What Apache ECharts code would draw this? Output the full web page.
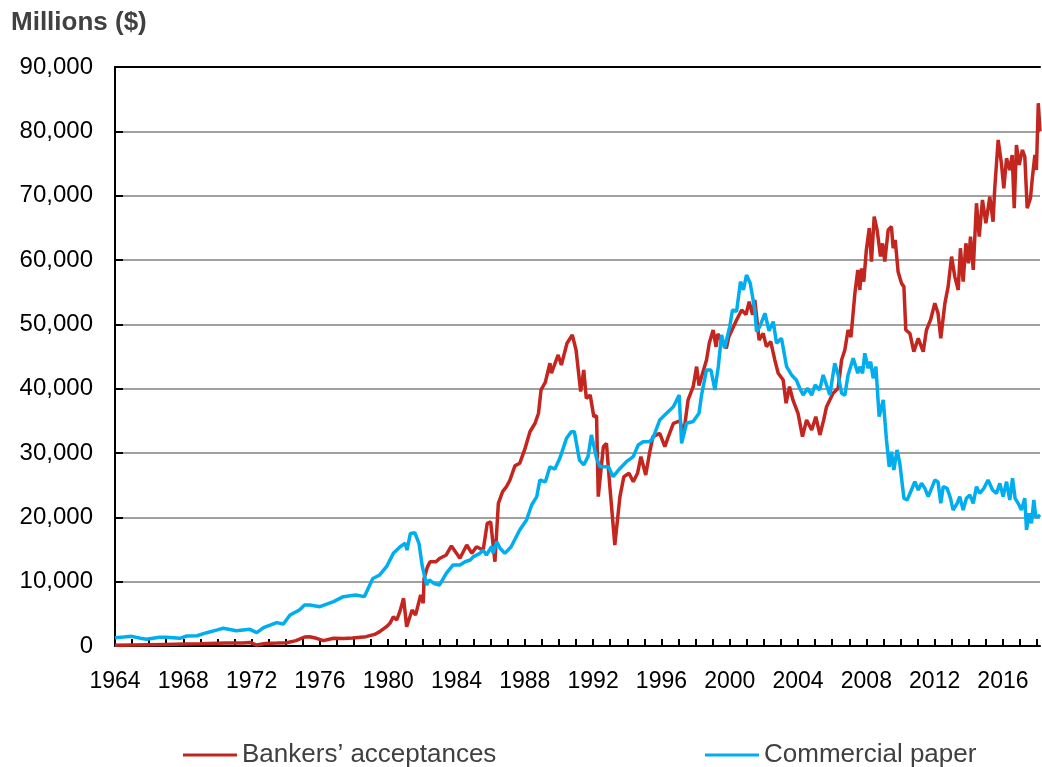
<!DOCTYPE html>
<html>
<head>
<meta charset="utf-8">
<script src="https://cdn.jsdelivr.net/npm/echarts@6/dist/echarts.min.js"></script>
<style>
  html, body { margin: 0; padding: 0; background: #fff; }
  #chart { width: 1042px; height: 767px; }
</style>
</head>
<body>
<div id="chart"></div>
<script>
// Bankers' acceptances (decimal year, millions of $)
const baYears = [
  1964.0, 1965.0, 1966.0, 1967.0, 1968.0, 1969.0, 1970.5, 1971.5, 1971.9, 1972.3,
  1972.8, 1973.5, 1974.05, 1974.6, 1975.1, 1975.4, 1975.8, 1976.2, 1976.8, 1977.4,
  1977.9, 1978.7, 1979.2, 1979.5, 1979.9, 1980.1, 1980.3, 1980.5, 1980.7, 1980.9,
  1981.08, 1981.4, 1981.6, 1981.9, 1982.05, 1982.1, 1982.3, 1982.45, 1982.8, 1983.0,
  1983.4, 1983.7, 1984.2, 1984.6, 1984.9, 1985.17, 1985.56, 1985.8, 1986.0, 1986.25,
  1986.45, 1986.7, 1986.93, 1987.13, 1987.42, 1987.7, 1988.0, 1988.3, 1988.6, 1988.8,
  1988.95, 1989.2, 1989.47, 1989.56, 1989.95, 1990.14, 1990.47, 1990.78, 1991.0, 1991.27,
  1991.45, 1991.6, 1991.83, 1992.04, 1992.2, 1992.3, 1992.6, 1992.78, 1992.98, 1993.27,
  1993.57, 1993.8, 1994.1, 1994.35, 1994.6, 1994.8, 1995.08, 1995.3, 1995.5, 1995.9,
  1996.2, 1996.4, 1996.7, 1997.08, 1997.3, 1997.56, 1997.86, 1998.06, 1998.2, 1998.35,
  1998.64, 1998.8, 1999.03, 1999.2, 1999.3, 1999.8, 1999.95, 2000.4, 2000.7, 2000.95,
  2001.14, 2001.34, 2001.47, 2001.72, 2001.96, 2002.15, 2002.4, 2002.64, 2002.84, 2003.13,
  2003.3, 2003.5, 2003.7, 2004.0, 2004.26, 2004.5, 2004.8, 2005.04, 2005.28, 2005.5,
  2005.67, 2005.86, 2006.05, 2006.35, 2006.55, 2006.74, 2006.93, 2007.1, 2007.33, 2007.5,
  2007.62, 2007.72, 2007.85, 2008.0, 2008.17, 2008.3, 2008.46, 2008.63, 2008.83, 2008.95,
  2009.08, 2009.28, 2009.47, 2009.57, 2009.69, 2009.86, 2010.06, 2010.2, 2010.31, 2010.55,
  2010.78, 2011.04, 2011.33, 2011.52, 2011.76, 2012.01, 2012.2, 2012.36, 2012.6, 2012.79,
  2012.99, 2013.18, 2013.38, 2013.51, 2013.67, 2013.83, 2013.98, 2014.1, 2014.26, 2014.45,
  2014.61, 2014.8, 2015.0, 2015.23, 2015.42, 2015.52, 2015.72, 2015.91, 2016.05, 2016.21,
  2016.4, 2016.54, 2016.66, 2016.79, 2016.95, 2017.14, 2017.28, 2017.42, 2017.61, 2017.73,
  2017.87, 2017.96, 2018.07, 2018.17
];
const baValues = [
  100, 150, 200, 250, 300, 350, 450, 450, 550, 150,
  400, 450, 500, 830, 1400, 1450, 1200, 830, 1200, 1150,
  1250, 1450, 1800, 2230, 3000, 3520, 4550, 4040, 5500, 7410,
  3000, 5600, 4800, 7930, 6640, 10500, 12300, 13100, 13100, 13600,
  14150, 15550, 13630, 15700, 14400, 15430, 14900, 19070, 19300, 13100,
  22180, 23990, 24800, 25800, 28000, 28400, 30600, 33300, 34620, 36170,
  39800, 41000, 43950, 42400, 45240, 43680, 47060, 48350, 46010, 39540,
  42900, 38500, 39000, 35650, 35800, 23210, 30980, 31500, 24770, 15700,
  23210, 26320, 26840, 25540, 26840, 29430, 26580, 29950, 32540, 33060,
  30980, 32500, 34620, 35000, 33000, 38240, 40310, 43420, 40500, 41860,
  44460, 47060, 49120, 46500, 48500, 46270, 48080, 50680, 52230, 51500,
  53520, 51500, 53790, 47570, 48600, 46530, 47300, 44460, 42400, 41350,
  37730, 40310, 38240, 36170, 32540, 35130, 33580, 35650, 32800, 35100,
  37200, 38240, 39300, 40060, 44460, 46010, 49120, 48000, 54830, 58450,
  55340, 58710, 56630, 61570, 64940, 59750, 66740, 64680, 60530, 62590,
  59750, 64680, 65200, 61830, 63130, 58190, 56370, 55860, 49120, 48600,
  45750, 47830, 45750, 49120, 50680, 53270, 51720, 47830, 53270, 55860,
  60530, 57420, 55340, 61830, 56630, 62590, 59490, 63640, 58450, 68820,
  63640, 69330, 65710, 69850, 65960, 71150, 78660, 75030, 71150, 75810,
  73990, 76330, 68040, 77880, 74770, 77100, 76070, 68040, 69590, 72950,
  76330, 73990, 84370, 80000
];

// Commercial paper
const cpYears = [
  1964.0, 1964.5, 1964.98, 1965.5, 1965.85, 1966.6, 1967.0, 1967.8, 1968.2, 1968.8,
  1969.37, 1970.0, 1970.34, 1971.1, 1971.9, 1972.3, 1972.7, 1973.47, 1973.86, 1974.25,
  1974.8, 1975.1, 1975.4, 1976.0, 1976.8, 1977.37, 1978.1, 1978.6, 1979.1, 1979.5,
  1979.9, 1980.3, 1980.7, 1981.0, 1981.1, 1981.3, 1981.56, 1981.8, 1982.0, 1982.25,
  1982.4, 1982.7, 1983.0, 1983.4, 1983.8, 1984.2, 1984.5, 1984.8, 1985.0, 1985.37,
  1985.56, 1985.75, 1986.05, 1986.15, 1986.35, 1986.55, 1986.83, 1987.2, 1987.3, 1987.7,
  1988.1, 1988.4, 1988.7, 1988.88, 1989.2, 1989.47, 1989.76, 1990.05, 1990.44, 1990.73,
  1990.9, 1991.2, 1991.45, 1991.7, 1991.9, 1992.2, 1992.4, 1992.9, 1993.17, 1993.57,
  1993.95, 1994.35, 1994.64, 1994.93, 1995.3, 1995.5, 1995.9, 1996.3, 1996.7, 1997.04,
  1997.18, 1997.47, 1997.86, 1998.2, 1998.35, 1998.64, 1998.9, 1999.13, 1999.33, 1999.52,
  1999.7, 2000.0, 2000.16, 2000.4, 2000.63, 2000.8, 2000.98, 2001.2, 2001.47, 2001.57,
  2001.76, 2002.06, 2002.3, 2002.55, 2002.74, 2003.03, 2003.33, 2003.62, 2003.9, 2004.1,
  2004.3, 2004.56, 2004.8, 2005.0, 2005.27, 2005.47, 2005.67, 2005.86, 2006.15, 2006.35,
  2006.55, 2006.74, 2006.93, 2007.23, 2007.5, 2007.62, 2007.78, 2007.91, 2008.11, 2008.25,
  2008.4, 2008.56, 2008.75, 2008.99, 2009.18, 2009.34, 2009.47, 2009.61, 2009.8, 2009.96,
  2010.2, 2010.39, 2010.64, 2010.84, 2011.04, 2011.23, 2011.43, 2011.62, 2011.82, 2012.01,
  2012.2, 2012.36, 2012.5, 2012.73, 2012.93, 2013.08, 2013.32, 2013.47, 2013.67, 2013.86,
  2014.06, 2014.26, 2014.45, 2014.64, 2014.88, 2015.13, 2015.39, 2015.62, 2015.82, 2016.01,
  2016.21, 2016.4, 2016.56, 2016.71, 2016.89, 2017.08, 2017.28, 2017.38, 2017.53, 2017.67,
  2017.81, 2017.92, 2018.06, 2018.17
];
const cpValues = [
  1300, 1400, 1500, 1200, 1040, 1350, 1360, 1190, 1550, 1600,
  2070, 2500, 2750, 2380, 2590, 2070, 2850, 3630, 3420, 4820,
  5600, 6370, 6370, 6110, 6890, 7670, 7930, 7670, 10500, 11040,
  12330, 14400, 15430, 15960, 14900, 17500, 17600, 15960, 12330, 9480,
  10260, 9700, 9480, 11300, 12600, 12600, 13100, 13370, 13900, 14400,
  14900, 14150, 15430, 14400, 16220, 15200, 14400, 15430, 15700, 18030,
  19590, 21920, 23210, 25800, 25500, 27870, 27500, 29170, 32280, 33320,
  33320, 28900, 28140, 29430, 32800, 29200, 27870, 27870, 26320, 27600,
  28650, 29430, 31250, 31760, 31760, 32280, 35130, 36170, 37200, 39000,
  31500, 34620, 34900, 36170, 39020, 42900, 42900, 39800, 43420, 48350,
  46300, 49640, 52230, 52000, 56630, 55340, 57670, 56380, 52230, 48860,
  49640, 51720, 49000, 50420, 47060, 47830, 43420, 42130, 41350, 40060,
  39020, 40060, 39000, 40570, 39800, 42130, 40570, 39020, 43950, 42130,
  39280, 39000, 42130, 44720, 42400, 43420, 42400, 45500, 43170, 44200,
  41610, 43420, 35650, 38240, 32020, 27870, 30200, 27360, 30470, 28400,
  22960, 22700, 24250, 25540, 24250, 25290, 24500, 23210, 24500, 25800,
  25500, 22180, 24770, 24500, 22960, 21140, 22180, 23210, 21140, 22960,
  23470, 22180, 24770, 23730, 24500, 25800, 24250, 23730, 25290, 23210,
  25540, 22700, 26070, 22960, 22180, 21140, 22960, 18030, 20620, 19070,
  22700, 20100, 20100, 20400
];

const yTicks = [0, 10000, 20000, 30000, 40000, 50000, 60000, 70000, 80000, 90000];

const xMin = 1964;
const xMax = 2018.17;

const zip = (xs, ys) => xs.map((x, i) => [x, ys[i]]);

const chart = echarts.init(document.getElementById('chart'), null, { renderer: 'canvas' });

const labelFont = 'Liberation Sans, Arial, sans-serif';

const option = {
    animation: false,
    backgroundColor: '#ffffff',
    title: {
        text: 'Millions ($)',
        left: 6,
        top: 5,
        textStyle: {
            fontFamily: labelFont,
            fontWeight: 'bold',
            fontSize: 26,
            color: '#404040'
        }
    },
    grid: {
        left: 115,
        right: 2,
        top: 67,
        bottom: 121,
        containLabel: false
    },
    legend: [
        {
            data: ['Bankers’ acceptances'],
            left: 178,
            top: 737,
            icon: 'rect',
            itemWidth: 54,
            itemHeight: 3,
            textStyle: { fontFamily: labelFont, fontSize: 26, color: '#404040' }
        },
        {
            data: ['Commercial paper'],
            left: 700,
            top: 737,
            icon: 'rect',
            itemWidth: 54,
            itemHeight: 3,
            textStyle: { fontFamily: labelFont, fontSize: 26, color: '#404040' }
        }
    ],
    xAxis: [
        {
            type: 'value',
            min: xMin,
            max: xMax,
            interval: 1,
            axisLine: { lineStyle: { color: '#000', width: 2 } },
            axisTick: { inside: true, length: 7, lineStyle: { color: '#000', width: 2 } },
            axisLabel: {
                margin: 24,
                showMaxLabel: false,
                fontFamily: labelFont,
                fontSize: 23,
                color: '#000',
                formatter: function (v) {
                    return (v % 4 === 0) ? String(v) : '';
                }
            },
            splitLine: { show: false }
        },
        {
            // top border of the plot
            type: 'value',
            position: 'top',
            min: xMin,
            max: xMax,
            axisLine: { lineStyle: { color: '#000', width: 2 } },
            axisTick: { show: false },
            axisLabel: { show: false },
            splitLine: { show: false }
        }
    ],
    yAxis: {
        type: 'value',
        min: yTicks[0],
        max: yTicks[yTicks.length - 1],
        interval: 10000,
        axisLine: { show: true, lineStyle: { color: '#000', width: 2 } },
        axisTick: { show: true, inside: true, length: 8, lineStyle: { color: '#000', width: 2 } },
        axisLabel: {
            margin: 22,
            fontFamily: labelFont,
            fontSize: 24,
            color: '#000',
            formatter: function (v) {
                return v.toLocaleString('en-US');
            }
        },
        splitLine: { lineStyle: { color: '#A0A0A0', width: 2 } }
    },
    series: [
        {
            name: 'Bankers’ acceptances',
            type: 'line',
            xAxisIndex: 0,
            showSymbol: false,
            data: zip(baYears, baValues),
            lineStyle: { color: '#C3261F', width: 3.5 },
            itemStyle: { color: '#C3261F' }
        },
        {
            name: 'Commercial paper',
            type: 'line',
            xAxisIndex: 0,
            showSymbol: false,
            data: zip(cpYears, cpValues),
            lineStyle: { color: '#00AEEF', width: 3.5 },
            itemStyle: { color: '#00AEEF' }
        }
    ]
};

chart.setOption(option);
</script>
</body>
</html>
